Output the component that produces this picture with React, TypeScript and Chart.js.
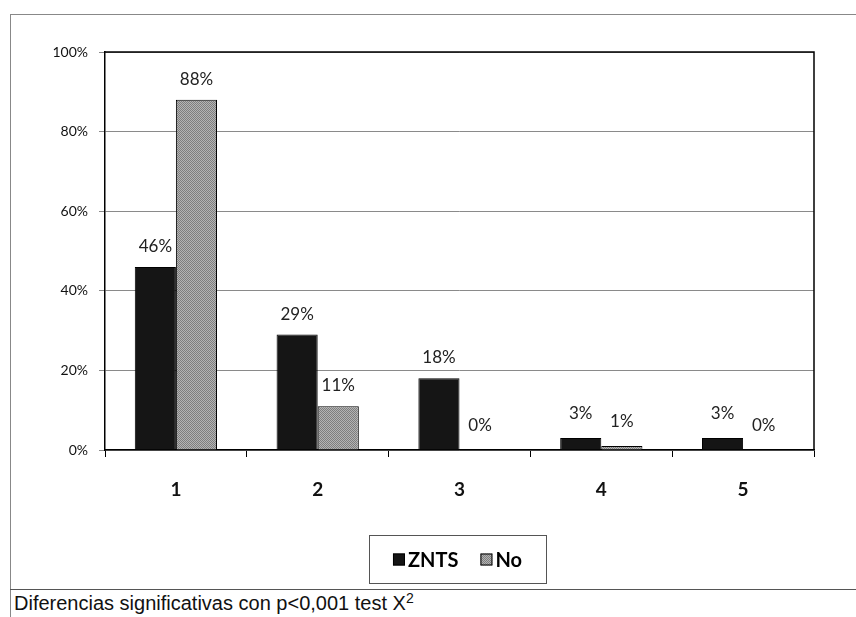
import React, { useEffect, useRef } from "react";
import { Chart, registerables } from "chart.js";

Chart.register(...registerables);

const categories = ["1", "2", "3", "4", "5"];
const zntsValues = [46, 29, 18, 3, 3];
const noValues = [88, 11, 0, 1, 0];
const seriesNames = ["ZNTS", "No"];
const yTicks = [0, 20, 40, 60, 80, 100];
const caption = "Diferencias significativas con p<0,001 test X";

function makePattern(): CanvasPattern | string {
  const c = document.createElement("canvas");
  c.width = 2;
  c.height = 2;
  const g = c.getContext("2d");
  if (!g) return "#9a9a9a";
  g.fillStyle = "#b4b4b4";
  g.fillRect(0, 0, 2, 2);
  g.fillStyle = "#7e7e7e";
  g.fillRect(0, 0, 1, 1);
  g.fillRect(1, 1, 1, 1);
  const p = g.createPattern(c, "repeat");
  return p || "#9a9a9a";
}

export default function App() {
  const ref = useRef<HTMLCanvasElement | null>(null);

  useEffect(() => {
    if (!ref.current) return;
    const noFill = makePattern();
    const fills = ["#151515", noFill];

    const labelPlugin = {
      id: "valueLabels",
      afterDatasetsDraw(chart: any) {
        const ctx = chart.ctx;
        ctx.save();
        ctx.font = "17px Lato";
        ctx.fillStyle = "#222";
        ctx.textAlign = "center";
        ctx.textBaseline = "bottom";
        chart.data.datasets.forEach((ds: any, di: number) => {
          const meta = chart.getDatasetMeta(di);
          meta.data.forEach((el: any, i: number) => {
            const v = ds.data[i];
            const off = v < 5 ? 16 : 12;
            ctx.fillText(v + "%", el.x, el.y - off);
          });
        });
        ctx.restore();
      },
    };

    const framePlugin = {
      id: "frame",
      afterDraw(chart: any) {
        const ctx = chart.ctx;
        const a = chart.chartArea;
        ctx.save();
        ctx.strokeStyle = "#000";
        ctx.lineWidth = 1.5;
        ctx.beginPath();
        ctx.moveTo(a.left, a.top);
        ctx.lineTo(a.right, a.top);
        ctx.lineTo(a.right, a.bottom);
        ctx.stroke();

        // legend
        const cx = (a.left + a.right) / 2 - 2;
        const boxW = 177;
        const boxH = 48;
        const bx = Math.round(cx - boxW / 2) + 0.5;
        const by = 521.5;
        ctx.strokeStyle = "#555";
        ctx.lineWidth = 1;
        ctx.strokeRect(bx, by, boxW, boxH);
        ctx.font = "bold 20px Lato";
        ctx.textBaseline = "middle";
        ctx.textAlign = "left";
        const sq = 12;
        const gap = 3;
        const itemGap = 22;
        const widths = seriesNames.map((n) => ctx.measureText(n).width);
        const total = widths.reduce((s, w) => s + sq + gap + w, 0) + itemGap;
        let x = cx - total / 2;
        const y = by + boxH / 2;
        seriesNames.forEach((n, i) => {
          ctx.fillStyle = fills[i] as any;
          ctx.fillRect(x, y - sq / 2, sq, sq);
          ctx.strokeStyle = "#000";
          ctx.strokeRect(x + 0.5, y - sq / 2 + 0.5, sq - 1, sq - 1);
          ctx.fillStyle = "#000";
          ctx.fillText(n, x + sq + gap, y + 1);
          x += sq + gap + widths[i] + itemGap;
        });
        ctx.restore();
      },
    };

    const chart = new Chart(ref.current, {
      type: "bar",
      data: {
        labels: categories,
        datasets: [
          {
            label: seriesNames[0],
            data: zntsValues,
            backgroundColor: fills[0] as any,
            borderColor: "#000",
            borderWidth: 1,
            categoryPercentage: 0.58,
            barPercentage: 1,
          },
          {
            label: seriesNames[1],
            data: noValues,
            backgroundColor: fills[1] as any,
            borderColor: "#000",
            borderWidth: 1,
            categoryPercentage: 0.58,
            barPercentage: 1,
          },
        ],
      },
      options: {
        responsive: false,
        animation: false,
        devicePixelRatio: 1,
        layout: { padding: { top: 38, right: 42, left: 0, bottom: 0 } },
        plugins: {
          legend: { display: false },
          tooltip: { enabled: false },
        },
        scales: {
          x: {
            grid: {
              display: true,
              drawOnChartArea: false,
              offset: true,
              tickLength: 7,
              color: "#000",
            },
            border: { color: "#000", width: 1.5 },
            ticks: {
              font: { family: "Lato", size: 19, weight: "bold" },
              color: "#111",
              padding: 21,
            },
            afterFit(scale: any) {
              scale.height = 139;
            },
          },
          y: {
            min: 0,
            max: 100,
            afterBuildTicks(scale: any) {
              scale.ticks = yTicks.map((v) => ({ value: v }));
            },
            grid: {
              color: "#8a8a8a",
              lineWidth: 1,
              tickLength: 6,
            },
            border: { color: "#000", width: 1.5 },
            ticks: {
              font: { family: "Lato", size: 14 },
              color: "#111",
              padding: 11,
              callback: (v: any) => v + "%",
            },
            afterFit(scale: any) {
              scale.width = 95;
            },
          },
        },
      },
      plugins: [labelPlugin, framePlugin],
    } as any);
    return () => chart.destroy();
  }, []);

  return (
    <div
      style={{
        position: "fixed",
        left: 0,
        top: 0,
        width: 856,
        height: 617,
        background: "#fff",
        overflow: "hidden",
      }}
    >
      <div
        style={{
          position: "absolute",
          left: 10,
          top: 14,
          width: 846,
          height: 603,
          borderLeft: "1.5px solid #888",
          borderTop: "1.5px solid #888",
          boxSizing: "border-box",
        }}
      />
      <canvas
        ref={ref}
        width={846}
        height={575}
        style={{ position: "absolute", left: 10, top: 14, width: 846, height: 575 }}
      />
      <div
        style={{
          position: "absolute",
          left: 10,
          top: 589,
          width: 846,
          borderTop: "1.5px solid #555",
        }}
      />
      <div
        style={{
          position: "absolute",
          left: 14,
          top: 589,
          fontFamily: "'Liberation Sans', Arial, sans-serif",
          fontSize: 20,
          lineHeight: "28px",
          color: "#111",
          whiteSpace: "nowrap",
        }}
      >
        {caption}
        <sup style={{ fontSize: 14, verticalAlign: "top", lineHeight: "18px" }}>2</sup>
      </div>
    </div>
  );
}
